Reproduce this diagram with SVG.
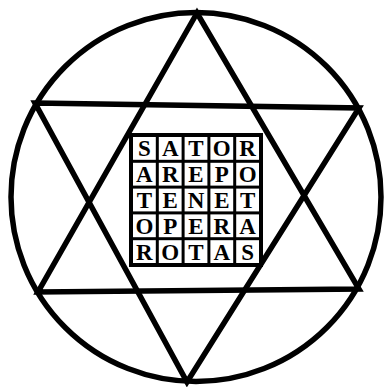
<svg xmlns="http://www.w3.org/2000/svg" width="387" height="387" viewBox="0 0 387 387">
<style>
.ln{fill:none;stroke:#000;stroke-width:5.5;stroke-linejoin:miter}
.cell{fill:#fff}
.t{font-family:"Liberation Serif","DejaVu Serif",serif;font-size:23px;font-weight:bold;text-anchor:middle;fill:#000}
</style>
<rect width="387" height="387" fill="#fff"/>
<g id="figure">
<ellipse class="ln" cx="196" cy="197" rx="185" ry="184.5"/>
<polygon class="ln" points="35,103 359,108 187,382"/>
<polygon class="ln" points="197,13 38,292 359,289"/>
</g>
<g id="square">
<rect x="129" y="133" width="134" height="134" fill="#000"/>
<g class="cell">
<rect x="133" y="137" width="22.8" height="22.8"/><rect x="158.8" y="137" width="22.8" height="22.8"/><rect x="184.6" y="137" width="22.8" height="22.8"/><rect x="210.4" y="137" width="22.8" height="22.8"/><rect x="236.2" y="137" width="22.8" height="22.8"/>
<rect x="133" y="162.8" width="22.8" height="22.8"/><rect x="158.8" y="162.8" width="22.8" height="22.8"/><rect x="184.6" y="162.8" width="22.8" height="22.8"/><rect x="210.4" y="162.8" width="22.8" height="22.8"/><rect x="236.2" y="162.8" width="22.8" height="22.8"/>
<rect x="133" y="188.6" width="22.8" height="22.8"/><rect x="158.8" y="188.6" width="22.8" height="22.8"/><rect x="184.6" y="188.6" width="22.8" height="22.8"/><rect x="210.4" y="188.6" width="22.8" height="22.8"/><rect x="236.2" y="188.6" width="22.8" height="22.8"/>
<rect x="133" y="214.4" width="22.8" height="22.8"/><rect x="158.8" y="214.4" width="22.8" height="22.8"/><rect x="184.6" y="214.4" width="22.8" height="22.8"/><rect x="210.4" y="214.4" width="22.8" height="22.8"/><rect x="236.2" y="214.4" width="22.8" height="22.8"/>
<rect x="133" y="240.2" width="22.8" height="22.8"/><rect x="158.8" y="240.2" width="22.8" height="22.8"/><rect x="184.6" y="240.2" width="22.8" height="22.8"/><rect x="210.4" y="240.2" width="22.8" height="22.8"/><rect x="236.2" y="240.2" width="22.8" height="22.8"/>
</g>
<g class="t">
<text x="144.4" y="156.3">S</text><text x="170.2" y="156.3">A</text><text x="196" y="156.3">T</text><text x="221.8" y="156.3">O</text><text x="247.6" y="156.3">R</text>
<text x="144.4" y="182.1">A</text><text x="170.2" y="182.1">R</text><text x="196" y="182.1">E</text><text x="221.8" y="182.1">P</text><text x="247.6" y="182.1">O</text>
<text x="144.4" y="207.9">T</text><text x="170.2" y="207.9">E</text><text x="196" y="207.9">N</text><text x="221.8" y="207.9">E</text><text x="247.6" y="207.9">T</text>
<text x="144.4" y="233.7">O</text><text x="170.2" y="233.7">P</text><text x="196" y="233.7">E</text><text x="221.8" y="233.7">R</text><text x="247.6" y="233.7">A</text>
<text x="144.4" y="259.5">R</text><text x="170.2" y="259.5">O</text><text x="196" y="259.5">T</text><text x="221.8" y="259.5">A</text><text x="247.6" y="259.5">S</text>
</g>
</g>
</svg>
